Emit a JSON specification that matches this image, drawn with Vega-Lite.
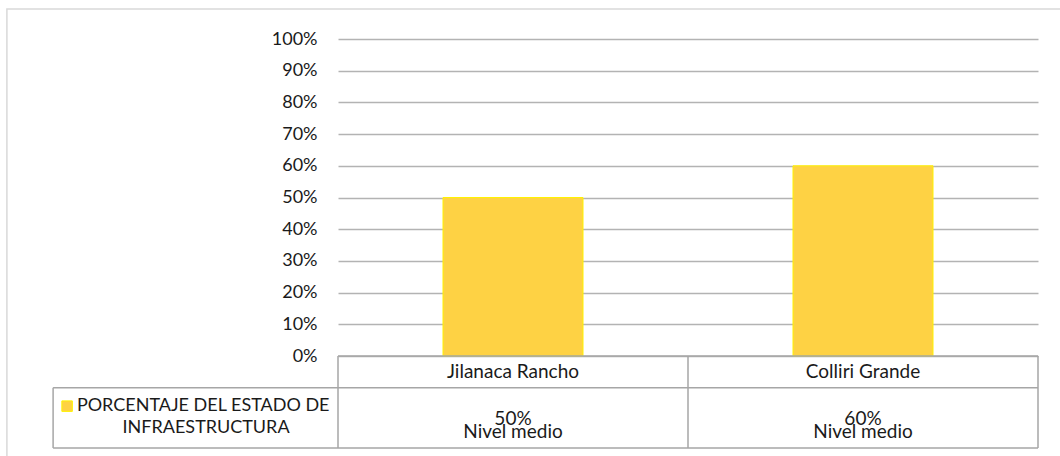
{
  "$schema": "https://vega.github.io/schema/vega-lite/v6.json",
  "autosize": {"type": "none"},
  "width": 700,
  "height": 409,
  "padding": {"left": 338, "top": 39, "right": 22, "bottom": 8},
  "background": "white",
  "config": {
    "view": {"stroke": null},
    "font": "Lato",
    "axisY": {
      "grid": true,
      "gridColor": "#B3B3B3",
      "gridWidth": 1.5,
      "domain": false,
      "ticks": false,
      "labelFont": "Lato",
      "labelFontSize": 18,
      "labelColor": "#1a1a1a",
      "labelPadding": 21,
      "title": null
    }
  },
  "datasets": {
    "sitios": [
      {"sitio": "Jilanaca Rancho", "porcentaje": 0.5, "nivel": "Nivel medio"},
      {"sitio": "Colliri Grande", "porcentaje": 0.6, "nivel": "Nivel medio"}
    ],
    "lineas_h": [
      {"y": 0, "x0": 0, "x1": 2},
      {"y": -0.1, "x0": -0.814, "x1": 2},
      {"y": -0.29, "x0": -0.814, "x1": 2}
    ],
    "lineas_v": [
      {"x": -0.814, "y0": -0.1, "y1": -0.29},
      {"x": 0, "y0": 0, "y1": -0.29},
      {"x": 1, "y0": 0, "y1": -0.29},
      {"x": 2, "y0": 0, "y1": -0.29}
    ]
  },
  "data": {"name": "sitios"},
  "resolve": {"scale": {"x": "independent"}},
  "layer": [
    {
      "encoding": {
        "x": {"field": "sitio", "type": "nominal", "sort": null, "axis": null,
              "scale": {"paddingInner": 0.6, "paddingOuter": 0.3}}
      },
      "layer": [
        {
          "mark": {"type": "bar", "color": "#FED244", "stroke": "#FFF200", "strokeWidth": 1},
          "encoding": {
            "y": {"field": "porcentaje", "type": "quantitative",
                  "scale": {"domain": [-0.29, 1], "nice": false, "zero": false},
                  "axis": {"values": [0, 0.1, 0.2, 0.3, 0.4, 0.5, 0.6, 0.7, 0.8, 0.9, 1], "format": ".0%", "title": null}},
            "y2": {"datum": 0}
          }
        },
        {
          "mark": {"type": "text", "fontSize": 19, "baseline": "middle", "color": "#1a1a1a"},
          "encoding": {
            "y": {"datum": -0.05, "type": "quantitative"},
            "text": {"field": "sitio", "type": "nominal"}
          }
        },
        {
          "mark": {"type": "text", "fontSize": 19, "baseline": "alphabetic", "color": "#1a1a1a"},
          "encoding": {
            "y": {"datum": -0.218, "type": "quantitative"},
            "text": {"field": "porcentaje", "type": "quantitative", "format": ".0%"}
          }
        },
        {
          "mark": {"type": "text", "fontSize": 19, "baseline": "alphabetic", "color": "#1a1a1a"},
          "encoding": {
            "y": {"datum": -0.259, "type": "quantitative"},
            "text": {"field": "nivel", "type": "nominal"}
          }
        }
      ]
    },
    {
      "layer": [
        {
          "data": {"name": "lineas_h"},
          "mark": {"type": "rule", "color": "#A6A6A6", "strokeWidth": 1.5},
          "encoding": {
            "x": {"field": "x0", "type": "quantitative", "axis": null,
                  "scale": {"domain": [0, 2], "nice": false, "zero": false}},
            "x2": {"field": "x1"},
            "y": {"field": "y", "type": "quantitative"}
          }
        },
        {
          "data": {"name": "lineas_v"},
          "mark": {"type": "rule", "color": "#A6A6A6", "strokeWidth": 1.5},
          "encoding": {
            "x": {"field": "x", "type": "quantitative", "axis": null,
                  "scale": {"domain": [0, 2], "nice": false, "zero": false}},
            "y": {"field": "y0", "type": "quantitative"},
            "y2": {"field": "y1"}
          }
        },
        {
          "data": {"values": [{}]},
          "mark": {"type": "point", "shape": "square", "filled": true, "color": "#FED244", "stroke": "#FFF200", "strokeWidth": 1, "size": 110, "opacity": 1},
          "encoding": {
            "x": {"datum": -0.774, "type": "quantitative"},
            "y": {"datum": -0.158, "type": "quantitative"}
          }
        },
        {
          "data": {"values": [{}]},
          "mark": {"type": "text", "text": "PORCENTAJE DEL ESTADO DE", "fontSize": 18, "align": "left", "baseline": "alphabetic", "color": "#1a1a1a"},
          "encoding": {
            "x": {"datum": -0.746, "type": "quantitative"},
            "y": {"datum": -0.173, "type": "quantitative"}
          }
        },
        {
          "data": {"values": [{}]},
          "mark": {"type": "text", "text": "INFRAESTRUCTURA", "fontSize": 18, "align": "center", "baseline": "alphabetic", "color": "#1a1a1a"},
          "encoding": {
            "x": {"datum": -0.377, "type": "quantitative"},
            "y": {"datum": -0.243, "type": "quantitative"}
          }
        },
        {
          "data": {"values": [{}]},
          "mark": {"type": "rect", "fill": null, "stroke": "#D9D9D9", "strokeWidth": 1.5},
          "encoding": {
            "x": {"datum": -0.946, "type": "quantitative"},
            "x2": {"datum": 2.3},
            "y": {"datum": 1.095, "type": "quantitative"},
            "y2": {"datum": -0.4}
          }
        }
      ]
    }
  ]
}
